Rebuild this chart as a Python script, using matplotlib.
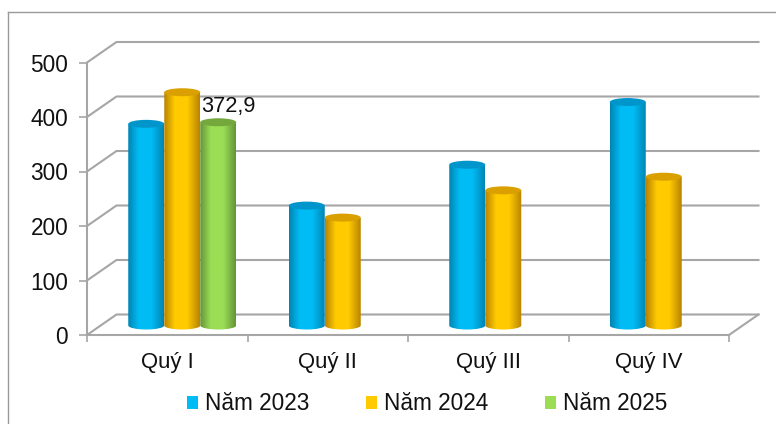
import matplotlib
matplotlib.use("Agg")
import matplotlib.pyplot as plt
import numpy as np
from matplotlib.colors import LinearSegmentedColormap
from matplotlib.lines import Line2D
from matplotlib.patches import Ellipse, PathPatch, Patch
from matplotlib.path import Path

plt.rcParams["font.family"] = ["Liberation Sans", "DejaVu Sans"]

quarters = ["Quý I", "Quý II", "Quý III", "Quý IV"]
years = ["Năm 2023", "Năm 2024", "Năm 2025"]
values_2023 = [370, 220, 295, 410]
values_2024 = [428, 198, 248, 273]
values_2025 = [372.9, None, None, None]
y_ticks = [0, 100, 200, 300, 400, 500]

# dark edge, light centre, top ellipse colour
STYLES = [
    ("#0085b5", "#00bcf5", "#0096cc"),
    ("#b98400", "#ffcb00", "#d9a000"),
    ("#66953a", "#9bde55", "#74a83c"),
]
GRID = "#a6a6a6"
TEXT = "#111111"
W, H = 776, 424
LEFT, RIGHT, BOTTOM, TOP = 87, 729, 335, 62.5  # front plane in pixels

fig = plt.figure(figsize=(W / 100, H / 100), dpi=100)
ax = fig.add_axes([LEFT / W, 1 - BOTTOM / H, (RIGHT - LEFT) / W, (BOTTOM - TOP) / H])
ax.patch.set_visible(False)

# data units per pixel, the 3D depth is faked with pixel offsets
px_x = 4 / (RIGHT - LEFT)
px_y = 500 / (BOTTOM - TOP)
depth_x, depth_y = 29.5 * px_x, 20.5 * px_y

for v in y_ticks:
    ax.plot([0, depth_x, 4 + depth_x], [v, v + depth_y, v + depth_y],
            color=GRID, lw=1.5, clip_on=False, zorder=1)
ax.plot([4, 4 + depth_x], [0, depth_y], color=GRID, lw=1.5, clip_on=False, zorder=1)


def draw_cylinder(ax, x_mid, val, width, style):
    edge, light, top = style
    off_x, off_y = 15 * px_x, 9.5 * px_y
    x0, x1 = x_mid + off_x - width / 2, x_mid + off_x + width / 2
    y0, y1 = off_y, val + off_y
    ry = 4 * px_y
    k = 0.5523
    xc = (x0 + x1) / 2
    rx = width / 2
    verts = [(x0, y1), (x0, y0),
             (x0, y0 - k * ry), (xc - k * rx, y0 - ry), (xc, y0 - ry),
             (xc + k * rx, y0 - ry), (x1, y0 - k * ry), (x1, y0),
             (x1, y1), (x0, y1)]
    codes = [Path.MOVETO, Path.LINETO, Path.CURVE4, Path.CURVE4, Path.CURVE4,
             Path.CURVE4, Path.CURVE4, Path.CURVE4, Path.LINETO, Path.CLOSEPOLY]
    body = PathPatch(Path(verts, codes), fc="none", ec="none", transform=ax.transData)
    ax.add_patch(body)
    cmap = LinearSegmentedColormap.from_list(
        "c", [(0, edge), (0.3, light), (0.65, light), (1, edge)], N=64)
    grad = np.linspace(0, 1, 64).reshape(1, -1)
    img = ax.imshow(grad, extent=(x0, x1, y0 - ry, y1), aspect="auto", cmap=cmap, zorder=3)
    img.set_clip_path(body)
    ax.add_patch(Ellipse((xc, y1), width, 2 * ry, fc=top, ec="none", zorder=4))


series = [values_2023, values_2024, values_2025]
bar_w = 36 * px_x
for i, vals in enumerate(series):
    for q, v in enumerate(vals):
        if v is None:
            continue
        draw_cylinder(ax, q + 0.5 + (i - 1) * bar_w, v, bar_w, STYLES[i])

ax.set_xlim(0, 4)
ax.set_ylim(0, 500)
ax.text(0.5 + bar_w + 15 * px_x + 0.06, values_2025[0] + 15 * px_y, "372,9",
        ha="center", va="bottom", fontsize=15.7, color=TEXT, zorder=5)

for s in ["top", "right"]:
    ax.spines[s].set_visible(False)
for s in ["left", "bottom"]:
    ax.spines[s].set_color(GRID)
    ax.spines[s].set_linewidth(1.5)
ax.set_yticks(y_ticks)
ax.set_xticks(range(5))
ax.set_xticklabels([])
ax.set_xticks([0.5, 1.5, 2.5, 3.5], quarters, minor=True)
ax.tick_params(axis="x", which="major", length=5, color=GRID, width=1.2)
ax.tick_params(axis="x", which="minor", length=0, labelsize=15.9, pad=12, labelcolor=TEXT)
ax.tick_params(axis="y", length=5.5, color=GRID, width=1.2, labelsize=16.3, pad=8, labelcolor=TEXT)

handles = [Patch(fc=STYLES[i][1], ec="none", label=years[i]) for i in range(3)]
ax.legend(handles=handles, ncol=3, loc="center", frameon=False, fontsize=16.3,
          labelcolor=TEXT, bbox_to_anchor=(427 / W, 1 - 404 / H), bbox_transform=fig.transFigure,
          handlelength=0.5, handleheight=0.5, handletextpad=0.3, columnspacing=2.5)

# thin frame of the picture
fig.add_artist(Line2D([7.5 / W, 1], [1 - 11.5 / H] * 2, color="#999999", lw=1.0))
fig.add_artist(Line2D([7.5 / W] * 2, [0, 1 - 11.5 / H], color="#999999", lw=1.0))

fig.savefig("out.png", dpi=100)
